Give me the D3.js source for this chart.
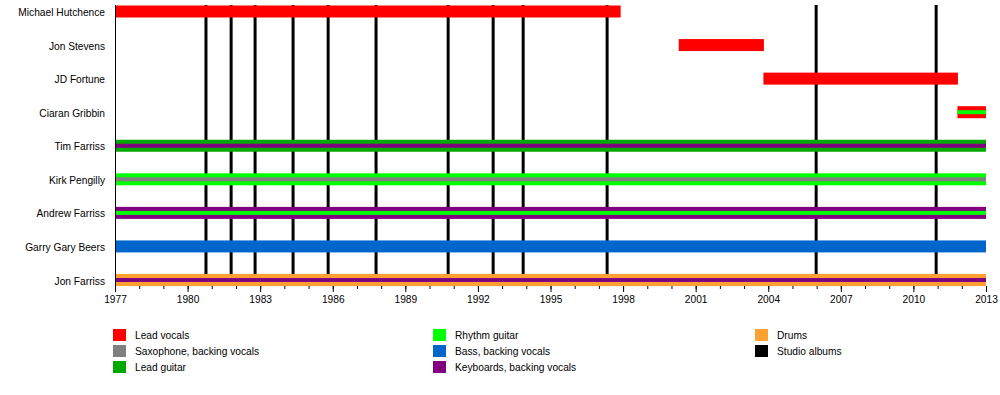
<!DOCTYPE html>
<html>
<head>
<meta charset="utf-8">
<script src="https://cdn.jsdelivr.net/npm/d3@7"></script>
<style>
  html, body { margin: 0; padding: 0; background: #fff; }
  svg text { font-family: "Liberation Sans", Arial, sans-serif; font-size: 10.2px; fill: #000; }
</style>
</head>
<body>
<svg id="chart" width="1000" height="395"></svg>
<script>
// ---- data ----
const members = ["Michael Hutchence", "Jon Stevens", "JD Fortune", "Ciaran Gribbin",
  "Tim Farriss", "Kirk Pengilly", "Andrew Farriss", "Garry Gary Beers", "Jon Farriss"];
const startYears = [1977, 2000.3, 2003.8, 2011.82, 1977, 1977, 1977, 1977, 1977];
const endYears   = [1997.9, 2003.82, 2011.84, 2013, 2013, 2013, 2013, 2013, 2013];
const mainRoles   = ["Lead vocals", "Lead vocals", "Lead vocals", "Lead vocals",
  "Lead guitar", "Rhythm guitar", "Keyboards, backing vocals", "Bass, backing vocals", "Drums"];
const secondRoles = [null, null, null, "Rhythm guitar",
  "Keyboards, backing vocals", "Saxophone, backing vocals", "Rhythm guitar", null, "Keyboards, backing vocals"];

const albumYears = [1980.76, 1981.8, 1982.79, 1984.36, 1985.81, 1987.79,
  1990.77, 1992.63, 1993.87, 1997.34, 2005.98, 2010.94];

const tickYears = [1977, 1980, 1983, 1986, 1989, 1992, 1995, 1998, 2001, 2004, 2007, 2010, 2013];

const legendLabels = ["Lead vocals", "Saxophone, backing vocals", "Lead guitar",
  "Rhythm guitar", "Bass, backing vocals", "Keyboards, backing vocals",
  "Drums", "Studio albums"];
const legendColors = ["#ff0000", "#808080", "#00a800",
  "#00ff00", "#0066cc", "#800080",
  "#ffa030", "#000000"];

// ---- drawing ----
const colorOf = d3.scaleOrdinal().domain(legendLabels).range(legendColors);
const svg = d3.select("#chart");

const x = d3.scaleLinear().domain([1977, 2013]).range([115, 986]);
const y = d3.scalePoint().domain(members).range([11.5, 280]);
const barH = 12, stripeH = 4;

// album lines
svg.append("g").selectAll("line").data(albumYears).join("line")
  .attr("x1", d => x(d)).attr("x2", d => x(d))
  .attr("y1", 5).attr("y2", 286)
  .attr("stroke", colorOf("Studio albums")).attr("stroke-width", 3);

// bars
const rows = members.map((m, i) => ({ m, s: startYears[i], e: endYears[i], r1: mainRoles[i], r2: secondRoles[i] }));
const g = svg.append("g");
g.selectAll("rect.main").data(rows).join("rect").attr("class", "main")
  .attr("x", d => x(d.s)).attr("width", d => x(d.e) - x(d.s))
  .attr("y", d => y(d.m) - barH / 2).attr("height", barH)
  .attr("fill", d => colorOf(d.r1));
g.selectAll("rect.second").data(rows.filter(d => d.r2)).join("rect").attr("class", "second")
  .attr("x", d => x(d.s)).attr("width", d => x(d.e) - x(d.s))
  .attr("y", d => y(d.m) - stripeH / 2).attr("height", stripeH)
  .attr("fill", d => colorOf(d.r2));

// left axis line
svg.append("line").attr("x1", x(1977)).attr("x2", x(1977)).attr("y1", 5).attr("y2", 286)
  .attr("stroke", "#000").attr("stroke-width", 1).attr("shape-rendering", "crispEdges");

// member labels
svg.append("g").selectAll("text").data(members).join("text")
  .attr("x", 105).attr("y", d => y(d) + 1).attr("dy", "0.35em")
  .attr("text-anchor", "end").text(d => d);

// x axis
const minorAxis = d3.axisBottom(x).tickValues(d3.range(1977, 2014)).tickSize(3).tickFormat("");
svg.append("g").attr("transform", "translate(0,286)").call(minorAxis)
  .call(a => a.select(".domain").remove());
const majorAxis = d3.axisBottom(x).tickValues(tickYears).tickSize(6).tickPadding(4).tickFormat(d3.format("d"));
const ax = svg.append("g").attr("transform", "translate(0,286)").call(majorAxis);
ax.select(".domain").remove();
ax.selectAll("text").style("font-family", "Liberation Sans, Arial, sans-serif").style("font-size", "10.2px").attr("fill", "#000");

// legend
const legCols = [113, 433, 755];
const legRows = [335, 351, 367];
const leg = svg.append("g").selectAll("g").data(legendLabels).join("g")
  .attr("transform", (d, i) => `translate(${legCols[Math.floor(i / 3)]},${legRows[i % 3]})`);
leg.append("rect").attr("x", 0).attr("y", -6).attr("width", 13).attr("height", 12)
  .attr("fill", d => colorOf(d));
leg.append("text").attr("x", 22).attr("y", 0).attr("dy", "0.35em").text(d => d);
</script>
</body>
</html>
